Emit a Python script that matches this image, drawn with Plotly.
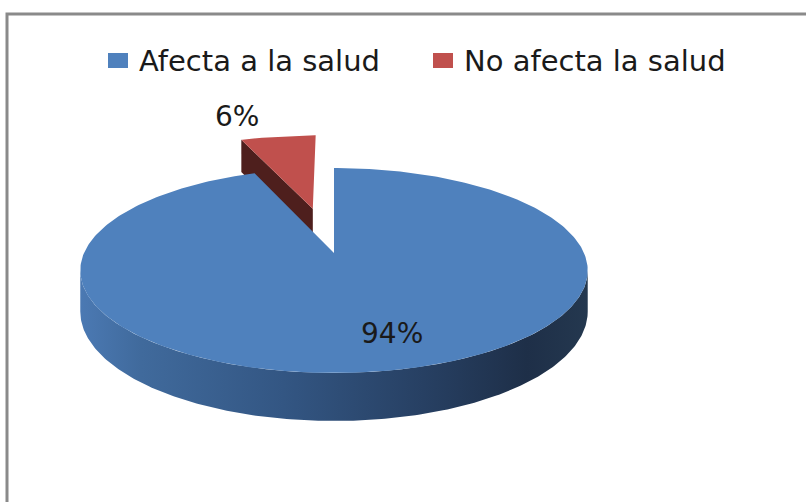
import numpy as np
import plotly.graph_objects as go

# ---------------- data ----------------
categories = ["Afecta a la salud", "No afecta la salud"]
values = [94, 6]
label_texts = ["94%", "6%"]

# ---------------- style ----------------
TOP_COLORS = ["#4f81bd", "#c0504d"]
CUT_COLORS = ["#2a4468", "#4e1f1d"]
SIDE_SCALES = [
    [[0, "#4b79b3"], [0.12, "#406a9c"], [0.4, "#335683"], [0.7, "#263e60"],
     [0.88, "#1e2f48"], [1, "#24384f"]],
    [[0, "#7a2c2a"], [1, "#4e1f1d"]],
]
EXPLODE = [0.0, 0.49]
LABEL_R = [0.72, 1.0]
LABEL_SHIFT = [(20, 0), (-41, 20)]
FONT = "DejaVu Sans"
FONT_SIZE = 29
W, H = 806, 502

# projection of a tilted disc (perspective) onto the page, in pixels
CX, CY, A, B, K, D = 334, 253, 250.0, 99.5, 0.1707, 39.8


def proj(u, v, h=0.0):
    u = np.asarray(u, float)
    v = np.asarray(v, float)
    w = 1 + K * v
    return CX + A * u / w, CY - B * v / w + h * D / w


TH_R = np.degrees(np.arctan2(np.sqrt(1 - K * K), -K))  # right silhouette
TH_L = 360 - TH_R                                       # left silhouette

fig = go.Figure()

total = float(sum(values))
slices = []
cum = 0.0
for i, val in enumerate(values):
    a0 = 360 * cum / total
    a1 = 360 * (cum + val) / total
    cum += val
    slices.append((i, a0, a1))

# paint far slices first
slices.sort(key=lambda s: -np.cos(np.radians((s[1] + s[2]) / 2)))


def add_poly(xs, ys, color=None, gradient=None):
    kw = dict(x=list(xs), y=list(ys), mode="lines", fill="toself",
              line=dict(width=0, color=color or "rgba(0,0,0,0)"),
              hoverinfo="skip", showlegend=False)
    if gradient is not None:
        kw["fillgradient"] = dict(type="horizontal", colorscale=gradient)
    else:
        kw["fillcolor"] = color
    fig.add_trace(go.Scatter(**kw))


for i, a0, a1 in slices:
    bis = np.radians((a0 + a1) / 2)
    ex, ey = EXPLODE[i] * np.sin(bis), EXPLODE[i] * np.cos(bis)

    # outer wall (visible front part)
    lo, hi = max(a0, TH_R), min(a1, TH_L)
    if hi > lo:
        th = np.radians(np.linspace(lo, hi, 240))
        u, v = ex + np.sin(th), ey + np.cos(th)
        xt, yt = proj(u, v, 0)
        xb, yb = proj(u, v, 1)
        add_poly(np.concatenate([xt, xb[::-1], xt[:1]]),
                 np.concatenate([yt, yb[::-1], yt[:1]]),
                 gradient=SIDE_SCALES[i])

    # radial cut faces
    for ang, vis in ((a0, np.sin(np.radians(a0)) < -1e-6),
                     (a1, np.sin(np.radians(a1)) > 1e-6)):
        if vis:
            r = np.radians(ang)
            pu = [ex, ex + np.sin(r), ex + np.sin(r), ex, ex]
            pv = [ey, ey + np.cos(r), ey + np.cos(r), ey, ey]
            ph = [0, 0, 1, 1, 0]
            pts = [proj(pu[k], pv[k], ph[k]) for k in range(5)]
            add_poly([p[0] for p in pts], [p[1] for p in pts], color=CUT_COLORS[i])

    # top face
    th = np.radians(np.linspace(a0, a1, 360))
    u = np.concatenate([[ex], ex + np.sin(th), [ex]])
    v = np.concatenate([[ey], ey + np.cos(th), [ey]])
    xt, yt = proj(u, v, 0)
    add_poly(xt, yt, color=TOP_COLORS[i])

# data labels
for i, a0, a1 in sorted(slices):
    bis = np.radians((a0 + a1) / 2)
    ex, ey = EXPLODE[i] * np.sin(bis), EXPLODE[i] * np.cos(bis)
    lx, ly = proj(ex + LABEL_R[i] * np.sin(bis), ey + LABEL_R[i] * np.cos(bis), 0)
    fig.add_annotation(x=float(lx), y=float(ly), text=label_texts[i], showarrow=False,
                       xanchor="center", yanchor="middle",
                       xshift=LABEL_SHIFT[i][0], yshift=LABEL_SHIFT[i][1],
                       font=dict(family=FONT, size=FONT_SIZE - 1, color="#1a1a1a"))

# legend (manual, top)
LEG_X = [108, 433]
LEG_Y = 60.5
for i, name in enumerate(categories):
    fig.add_shape(type="rect", x0=LEG_X[i], x1=LEG_X[i] + 20, y0=LEG_Y - 7.5, y1=LEG_Y + 7.5,
                  fillcolor=TOP_COLORS[i], line=dict(width=0))
    fig.add_annotation(x=LEG_X[i] + 29, y=LEG_Y, text=name, showarrow=False,
                       xanchor="left", yanchor="middle",
                       font=dict(family=FONT, size=FONT_SIZE, color="#1a1a1a"))

# chart border
fig.add_shape(type="rect", x0=7, y0=14, x1=W + 30, y1=H + 30,
              line=dict(color="#8a8a8a", width=3), fillcolor="rgba(0,0,0,0)")

fig.update_layout(
    width=W, height=H, margin=dict(l=0, r=0, t=0, b=0),
    paper_bgcolor="white", plot_bgcolor="white",
    xaxis=dict(range=[0, W], visible=False, fixedrange=True),
    yaxis=dict(range=[H, 0], visible=False, fixedrange=True),
    showlegend=False,
)

fig.write_html("out.html",
               config={"displayModeBar": False, "staticPlot": True},
               post_script="document.body.style.margin='0';document.body.style.overflow='hidden';")
